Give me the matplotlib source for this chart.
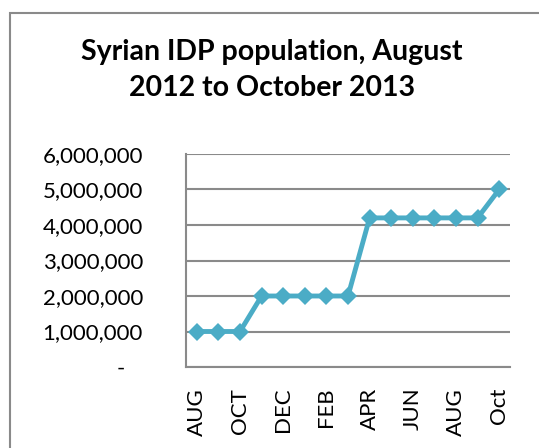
import matplotlib
matplotlib.use("Agg")
import matplotlib.pyplot as plt
from matplotlib.patches import Rectangle
from matplotlib.ticker import FuncFormatter

plt.rcParams['font.family'] = ['Lato', 'DejaVu Sans']

months = ["AUG", "SEP", "OCT", "NOV", "DEC", "JAN", "FEB", "MAR",
          "APR", "MAY", "JUN", "JUL", "AUG", "SEP", "Oct"]
idp = [1000000, 1000000, 1000000, 2000000, 2000000, 2000000, 2000000, 2000000,
       4200000, 4200000, 4200000, 4200000, 4200000, 4200000, 5000000]
yticks = [0, 1000000, 2000000, 3000000, 4000000, 5000000, 6000000]
title = "Syrian IDP population, August\n2012 to October 2013"

W, H = 539, 448
fig = plt.figure(figsize=(W / 100, H / 100), dpi=100)
fig.patches.append(Rectangle((10 / W, -0.1), 1.2, 1.1 - 13 / H, transform=fig.transFigure,
                             fill=False, edgecolor="#8a8a8a", linewidth=1.5))

ax = fig.add_axes([186 / W, 1 - 367 / H, (510 - 186) / W, (367 - 154) / H])
x = list(range(len(months)))
ax.plot(x, idp, color="#4BACC6", linewidth=3.5, marker="D", markersize=9.5,
        markeredgewidth=0, zorder=3)
ax.set_xlim(-0.5, len(months) - 0.5)
ax.set_ylim(0, 6000000)
ax.set_yticks(yticks)
ax.yaxis.set_major_formatter(FuncFormatter(lambda v, p: "-   " if v == 0 else f"{int(v):,}"))
ax.set_xticks(x[::2])
ax.set_xticklabels(months[::2], rotation=90)
ax.grid(axis="y", color="#8a8a8a", linewidth=1.5)
ax.set_axisbelow(True)
for s in ["top", "right"]:
    ax.spines[s].set_visible(False)
for s in ["left", "bottom"]:
    ax.spines[s].set_color("#8a8a8a")
    ax.spines[s].set_linewidth(1.5)
ax.tick_params(axis="both", length=0, labelsize=16, colors="black")
ax.tick_params(axis="y", pad=31)
ax.tick_params(axis="x", pad=15)

fig.text(272 / W, 1 - 70 / H, title, ha="center", va="center", fontsize=20.5,
         fontweight="bold", linespacing=1.45)

fig.savefig("out.png", dpi=100)
